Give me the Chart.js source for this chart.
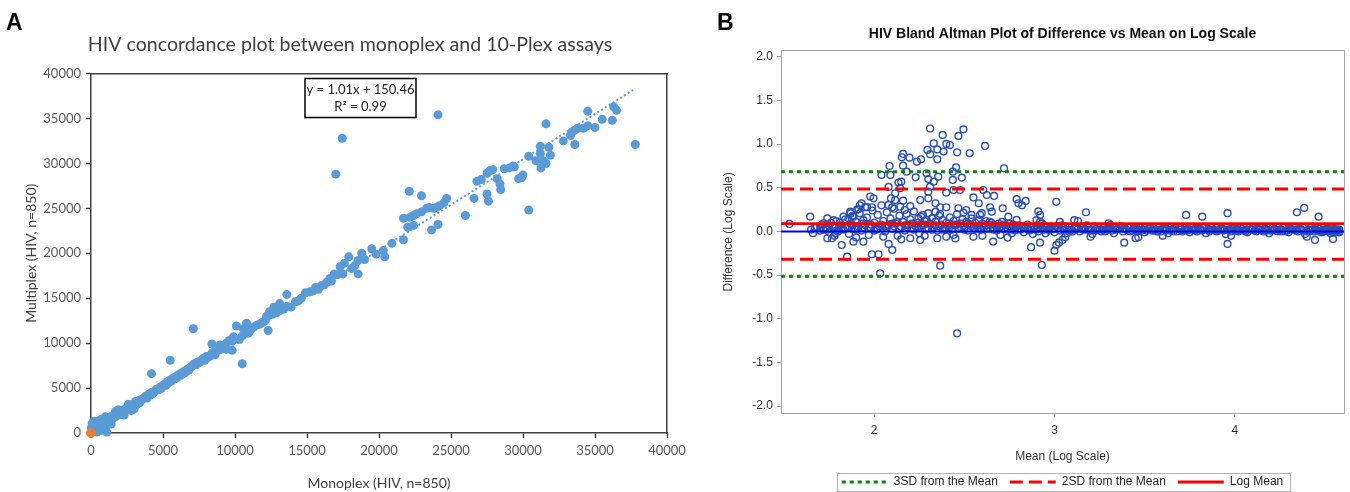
<!DOCTYPE html>
<html>
<head>
<meta charset="utf-8">
<title>HIV concordance and Bland Altman plots</title>
<script src="https://cdn.jsdelivr.net/npm/chart.js@4.4.1/dist/chart.umd.min.js"></script>
<style>
  html, body { margin: 0; padding: 0; background: #fff; }
  body { width: 1350px; height: 492px; position: relative; overflow: hidden; }
  #concordanceChart { position: absolute; left: 0; top: 0; width: 700px; height: 492px; }
  #blandAltmanChart { position: absolute; left: 700px; top: 0; width: 650px; height: 492px; }
</style>
</head>
<body>
<canvas id="concordanceChart" width="700" height="492"></canvas>
<canvas id="blandAltmanChart" width="650" height="492"></canvas>
<script>
// ---- panel A: monoplex vs 10-plex (x = monoplex, y = multiplex)
const concordancePairs = [
  [50,300],[100,800],[150,1200],[200,500],[250,1000],[300,200],[350,700],[400,1300],[450,900],[500,400],
  [550,1100],[600,600],[650,1400],[700,300],[750,900],[800,1200],[850,700],[900,1600],[950,1000],[1000,500],
  [1050,1300],[1100,900],[1150,1700],[1200,1100],[1100,100],[1250,1500],[1300,1200],[1350,1800],[1400,1000],[1450,1500],
  [80,1100],[120,150],[180,900],[30,600],[220,1300],[600,1000],[700,1500],[400,100],[850,1300],[1000,1800],
  [1500,1700],[1600,1900],[1700,1800],[1800,2100],[1900,2000],[2000,2300],[2100,2200],[2200,2500],[2300,2400],[2400,2700],
  [2500,2600],[2600,2900],[2700,2700],[2800,3000],[2900,2900],[3000,3300],[3100,3500],[3200,3200],[3300,3600],[3400,3400],
  [3500,3700],[3600,3800],[3700,3900],[3800,4100],[3900,3900],[4000,4300],[4100,4200],[4200,4500],[4300,4400],[4400,4600],
  [4500,4800],[4600,4900],[4700,4800],[4800,5100],[4900,5000],[5000,5300],[1700,2400],[2300,2000],[2600,3200],[1300,1600],
  [1900,2600],[2800,2500],[3000,2700],[4200,6600],
  [5100,5400],[5200,5300],[5300,5700],[5400,5600],[5500,5900],[5600,5800],[5700,6100],[5800,6000],[5900,6300],[6000,6200],
  [6100,6500],[6200,6400],[6300,6700],[6400,6600],[6500,6900],[6600,6800],[6700,7100],[6800,7000],[6900,7300],[7000,7400],
  [7100,7600],[7200,7700],[7300,7600],[7400,7900],[7500,7800],[7600,8000],[7700,8100],[7800,8300],[7900,8100],[8000,8500],
  [8100,8400],[8300,8600],[8400,8900],[8500,8700],[8600,9000],[8700,9100],[8900,9400],[9000,9300],[9200,9700],[9400,10000],
  [9600,10300],[9800,10200],[9900,10700],[5500,8100],[7100,11600],[8400,9900],[8960,9800],[8600,8700],[9400,9300],[9800,9200],
  [10500,7700],
  [10100,11900],[10300,10400],[10500,10800],[10600,11600],[10800,12200],[11000,11300],[10900,11100],[11100,11500],[11300,11800],[11500,12000],
  [11700,12100],[11900,12300],[12100,12500],[12200,13000],[12400,13500],[12700,14000],[12600,13200],[12900,13400],[13100,13600],[13100,14400],
  [13400,13800],[13600,14100],[13600,15400],[13900,14000],[14200,14600],[14600,15000],[14400,14700],[12300,11400],
  [14900,15600],[15200,15700],[15400,15800],[15600,16200],[15800,16000],[16000,16400],[16200,16500],[16400,16800],[16600,17200],[16700,16900],
  [16900,17700],[17100,17600],[17300,18500],[17500,17700],[17600,18900],[17900,19600],[18100,18300],[18300,18600],[18550,19200],[18550,17700],
  [18800,20000],[19000,19300],[19500,20500],[19800,19900],[20300,20300],[20400,19600],[20900,21100],[17000,28800],[17450,32800],
  [21700,21500],[21700,23900],[22000,22900],[22100,26900],[22150,24000],[22400,23100],[22400,24200],[22600,24400],[22950,24600],[22950,26400],
  [23300,25000],[23500,25100],[23650,22600],[23800,25000],[24000,25100],[24100,23200],[24200,25300],[24500,25600],[24700,26100],[24100,35400],
  [26000,24200],[26600,26100],[26800,28000],[27100,28200],[27500,26600],[27500,28900],[27600,25800],[27700,29200],[27900,29300],[28200,28300],
  [28400,27700],[28450,27100],[28700,29400],[29050,29500],[29300,29700],[29400,29600],[29700,28300],[29900,28400],[30000,28700],
  [30400,24800],[30400,30800],[30900,30300],[31200,31100],[31250,29500],[31200,31900],[31400,30300],[31600,30000],[31600,34400],[31800,31800],
  [31900,30900],[32800,32500],[33300,33100],[33400,33500],[33600,32100],[33600,33700],[33800,33900],[34200,33900],[34500,34200],[34500,35800],
  [35000,34000],[35500,34900],[36200,34800],[36300,36300],[36500,35900],[37800,32100]
];
const zeroSample = [[0, 0]];
const concordanceTicks = [0, 5000, 10000, 15000, 20000, 25000, 30000, 35000, 40000];
const fitSlope = 1.01;
const fitIntercept = 150.46;
const fitRange = [0, 37650];
const fitLabel = ['y = 1.01x + 150.46', 'R\u00B2 = 0.99'];

// ---- panel B: Bland Altman on log scale (x = mean, y = difference)
const blandAltmanPairs = [
  [1.53,0.086],[1.645,0.17],
  [1.65,0.02],[1.66,-0.02],[1.68,0.05],[1.70,0.01],[1.71,0.08],[1.73,0.03],[1.75,-0.01],[1.76,0.10],[1.78,0.04],[1.79,0.12],
  [1.80,0.00],[1.81,0.07],[1.83,0.02],[1.84,0.14],[1.85,0.05],[1.86,-0.03],[1.87,0.09],[1.88,0.18],[1.89,0.03],[1.90,0.11],
  [1.91,0.06],[1.92,0.21],[1.93,0.01],[1.94,0.13],[1.95,0.08],[1.96,0.16],[1.97,-0.04],[1.98,0.04],[1.99,0.24],[2.00,0.10],
  [2.01,0.02],[2.02,0.19],[2.03,0.06],[2.04,0.30],[2.05,0.12],[2.06,0.00],[2.07,0.22],[2.08,0.07],[2.09,0.15],[2.10,0.03],
  [2.11,0.26],[2.12,0.09],[2.13,-0.05],[2.14,0.18],[2.15,0.05],[2.16,0.11],[2.17,0.01],[2.18,0.20],[2.19,0.08],[2.20,0.14],
  [2.21,0.04],[2.22,0.23],[2.23,0.06],[2.24,0.10],[2.25,-0.02],[2.26,0.17],[2.27,0.07],[2.28,0.12],[2.29,0.03],[2.30,0.21],
  [2.31,0.09],[2.32,0.15],[2.33,0.05],[2.34,0.11],[2.35,0.01],[2.36,0.18],[2.37,0.08],[2.38,0.13],[2.39,0.04],[2.40,0.10],
  [2.41,0.06],[2.42,0.16],[2.43,0.02],[2.44,0.12],[2.45,0.07],[2.46,0.20],[2.47,0.03],[2.48,0.09],[2.49,0.14],[2.50,0.05],
  [2.51,0.11],[2.52,0.01],[2.53,0.08],[2.54,0.15],[2.55,0.04],[2.56,0.10],[2.57,0.06],[2.58,0.13],[2.59,0.02],[2.60,0.09],
  [2.61,0.05],[2.62,0.12],[2.63,0.03],[2.64,0.08],[2.65,0.10],[2.66,0.04],[2.67,0.07],[2.68,0.01],[2.69,0.09],[2.70,0.05],
  [2.71,0.11],[2.72,0.03],[2.73,0.07],[2.74,0.02],[2.75,0.09],[2.76,0.05],[2.77,0.08],[2.78,0.01],[2.79,0.06],[2.80,0.03],
  [1.70,0.05],[1.74,0.02],[1.77,0.06],[1.82,0.03],[1.86,0.06],[1.90,0.02],[1.94,0.05],[1.98,0.08],[2.02,0.03],[2.06,0.06],
  [2.10,0.09],[2.14,0.03],[2.18,0.05],[2.22,0.02],[2.26,0.06],[2.30,0.04],[2.34,0.07],[2.38,0.02],[2.42,0.05],[2.46,0.08],
  [2.50,0.02],[2.54,0.06],[2.58,0.04],[2.62,0.07],[2.66,0.02],[2.70,0.06],[2.74,0.04],[2.78,0.07],
  [1.67,0.04],[1.72,0.02],[1.75,0.06],[1.79,0.01],[1.81,0.10],[1.84,0.04],[1.88,0.07],[1.91,0.03],[1.93,0.09],[1.97,0.05],
  [2.00,0.01],[2.04,0.08],[2.07,0.04],[2.11,0.06],[2.13,0.11],[2.17,0.07],[2.21,0.09],[2.24,0.05],[2.28,0.08],[2.32,0.02],
  [2.36,0.06],[2.40,0.03],[2.44,0.08],[2.48,0.05],[2.52,0.09],[2.56,0.03],[2.60,0.06],[2.64,0.11],[2.68,0.05],[2.72,0.08],
  [2.76,0.02],[2.80,0.07],[1.78,-0.05],[1.90,-0.07],[2.05,-0.06],[2.15,-0.09],[2.28,-0.05],[2.45,-0.08],[2.60,-0.05],[2.74,-0.07],
  [2.31,1.18],[2.495,1.17],[2.38,1.106],[2.467,1.095],[2.33,1.01],[2.40,1.003],[2.42,0.99],[2.615,0.98],[2.295,0.934],[2.35,0.94],
  [2.46,0.907],[2.385,0.915],[2.53,0.896],[2.16,0.888],[2.153,0.85],[2.31,0.885],[2.35,0.827],[2.196,0.846],[2.237,0.80],[2.26,0.827],
  [2.085,0.75],[2.16,0.754],[2.18,0.685],[2.454,0.736],[2.436,0.685],[2.72,0.724],[2.04,0.648],[2.09,0.648],[2.23,0.62],[2.29,0.667],
  [2.30,0.60],[2.33,0.57],[2.355,0.628],[2.436,0.59],[2.486,0.617],[2.135,0.56],[2.15,0.57],[2.08,0.51],[2.144,0.495],[2.31,0.513],
  [2.30,0.456],[2.40,0.445],[2.44,0.475],[2.476,0.475],[2.605,0.475],[2.625,0.418],[2.665,0.407],[2.79,0.37],[2.80,0.323],[2.55,0.39],
  [2.58,0.323],[2.255,0.36],[2.30,0.38],[2.116,0.437],[2.093,0.38],[2.116,0.36],[2.16,0.353],[2.08,0.304],[2.10,0.277],[2.144,0.284],
  [2.17,0.246],[2.20,0.29],[1.978,0.40],[1.93,0.323],[1.95,0.277],[1.987,0.277],[1.913,0.254],[1.867,0.227],[1.885,0.17],[1.857,0.15],
  [2.34,0.323],[2.366,0.277],[2.40,0.277],[2.34,0.227],[2.366,0.20],[2.467,0.266],[2.495,0.216],[2.51,0.246],[2.54,0.19],[2.587,0.19],
  [2.597,0.209],[2.643,0.277],[2.652,0.227],[2.713,0.266],[2.744,0.17],[2.79,0.132],[2.245,0.15],[2.27,0.19],[2.29,0.132],
  [1.92,0.30],[1.996,0.38],[1.96,0.28],[1.905,0.25],[1.87,0.21],[1.83,0.17],[1.775,0.13],[1.74,0.15],[1.72,0.094],
  [1.82,-0.155],[1.85,-0.289],[1.987,-0.261],[2.024,-0.261],[2.10,-0.212],[2.08,-0.143],[2.033,-0.479],[2.366,-0.392],[1.885,-0.117],[1.94,-0.117],
  [1.74,-0.078],[1.766,-0.078],[1.784,-0.02],[2.20,-0.078],[2.255,-0.097],[2.35,-0.078],[2.40,-0.06],[2.44,-0.04],[2.55,-0.06],[2.66,-0.117],
  [2.70,-0.04],[2.763,-0.02],[2.46,-1.167],
  [2.81,0.02],[2.82,0.06],[2.83,-0.01],[2.84,0.04],[2.85,0.08],[2.86,0.01],[2.87,0.05],[2.88,-0.03],[2.89,0.03],[2.90,0.07],
  [2.91,0.00],[2.92,0.04],[2.93,0.09],[2.94,0.02],[2.95,-0.02],[2.96,0.05],[2.97,0.01],[2.98,0.06],[2.99,0.03],[3.00,-0.01],
  [3.02,0.04],[3.03,0.01],[3.04,0.07],[3.05,0.02],[3.07,-0.02],[3.08,0.05],[3.09,0.01],[3.11,0.03],[3.12,0.06],[3.14,0.00],
  [3.15,0.04],[3.17,0.02],[3.18,0.07],[3.20,0.01],[3.21,-0.03],[3.23,0.03],[3.24,0.05],[3.26,0.00],[3.27,0.04],[3.29,0.02],
  [3.30,0.06],[3.32,0.01],[3.33,-0.02],[3.35,0.03],[3.36,0.05],[3.38,0.00],[3.40,0.02],[3.41,0.04],[3.43,0.01],[3.44,0.03],
  [3.46,0.00],[3.47,0.05],[3.49,0.02],[3.50,-0.01],[3.52,0.03],[3.54,0.01],[3.55,0.04],[3.57,0.00],[3.58,0.02],[3.60,0.03],
  [3.62,0.01],[3.63,-0.02],[3.65,0.02],[3.67,0.04],[3.68,0.00],[3.70,0.02],[3.72,0.01],[3.74,0.03],[3.75,-0.01],[3.77,0.02],
  [3.79,0.00],[3.80,0.03],[3.82,0.01],[3.84,-0.02],[3.85,0.02],[3.87,0.04],[3.89,0.01],[3.90,0.00],[3.92,0.03],[3.94,0.01],
  [3.95,-0.03],[3.97,0.02],[3.99,0.04],[4.00,0.01],[4.02,0.00],[4.04,0.03],[4.05,0.01],[4.07,-0.01],[4.09,0.02],[4.10,0.04],
  [4.12,0.00],[4.14,0.02],[4.15,0.01],[4.17,0.03],[4.19,-0.02],[4.20,0.01],[4.22,0.03],[4.24,0.00],[4.25,0.02],[4.27,0.04],
  [4.29,0.01],[4.30,-0.01],[4.32,0.02],[4.33,0.05],[4.35,0.00],[4.36,0.03],[4.38,0.01],[4.39,-0.03],[4.41,0.02],[4.42,0.04],
  [4.44,0.00],[4.45,0.02],[4.46,0.01],[4.47,0.03],[4.48,-0.01],[4.49,0.02],[4.50,0.00],[4.51,0.01],[4.52,0.03],[4.53,-0.02],
  [4.54,0.01],[4.55,0.02],[4.56,0.00],[4.57,0.01],[4.58,-0.01],[4.58,0.02],
  [2.85,0.03],[2.90,0.02],[2.95,0.06],[3.00,0.03],[3.06,0.06],[3.10,0.00],[3.13,0.03],[3.16,0.05],[3.19,0.02],[3.22,0.06],
  [3.25,0.02],[3.28,0.00],[3.31,0.04],[3.34,0.02],[3.37,0.06],[3.39,0.03],[3.42,0.00],[3.45,0.02],[3.48,0.04],[3.51,0.01],
  [3.53,0.05],[3.56,0.02],[3.59,0.00],[3.61,0.04],[3.64,0.01],[3.66,0.03],[3.69,0.05],[3.71,0.00],[3.73,0.02],[3.76,0.04],
  [3.78,0.01],[3.81,0.02],[3.83,0.04],[3.86,0.00],[3.88,0.02],[3.91,0.01],[3.93,0.03],[3.96,0.02],[3.98,0.00],[4.01,0.03],
  [4.03,0.01],[4.06,0.02],[4.08,0.04],[4.11,0.01],[4.13,0.03],[4.16,0.00],[4.18,0.02],[4.21,0.04],[4.23,0.01],[4.26,0.02],
  [4.28,0.00],[4.31,0.03],[4.34,0.01],[4.37,0.02],[4.40,0.00],[4.43,0.02],[4.46,0.04],[4.50,0.02],[4.52,0.00],[4.55,0.03],[4.57,0.02],
  [2.83,0.05],[2.87,0.02],[2.91,0.05],[2.94,0.07],[2.97,0.03],[3.01,0.06],[3.05,0.04],[3.08,0.02],[3.12,0.04],[3.16,0.02],
  [3.19,0.05],[3.23,0.01],[3.27,0.02],[3.30,0.03],[3.34,0.05],[3.38,0.03],[3.42,0.05],[3.46,0.03],[3.50,0.04],[3.55,0.01],
  [3.58,0.05],[3.62,0.03],[3.66,0.00],[3.70,0.04],[3.74,0.01],[3.78,0.03],[3.82,0.05],[3.86,0.02],[3.90,0.04],[3.94,0.02],
  [3.98,0.03],[4.02,0.02],[4.06,0.00],[4.10,0.02],[4.14,0.04],[4.18,0.01],[4.22,0.02],[4.26,0.00],[4.30,0.03],[4.34,0.02],
  [4.38,0.04],[4.42,0.01],[4.47,0.00],[4.51,0.03],[4.54,0.04],[4.56,0.02],[4.58,0.00],[4.55,-0.01],[4.52,0.01],[4.49,0.00],
  [2.84,0.35],[2.82,0.30],[2.91,0.23],[2.92,0.19],[2.90,0.13],[2.92,0.11],[3.03,0.11],[3.01,0.34],[3.11,0.13],[3.13,0.12],
  [3.175,0.22],[3.30,0.094],[3.31,0.074],[3.73,0.19],[3.82,0.17],[3.96,0.21],[4.345,0.22],[4.385,0.27],[4.465,0.17],
  [2.87,-0.18],[2.92,-0.128],[2.93,-0.384],[3.00,-0.22],[3.01,-0.155],[3.025,-0.128],[3.045,-0.097],[3.06,-0.066],[3.387,-0.128],[3.45,-0.078],
  [3.465,-0.066],[3.96,-0.143],[4.445,-0.097],[4.545,-0.086],[3.98,-0.05],[4.40,-0.06],[3.60,-0.05],[3.20,-0.06]
];
const meanTicks = [2, 3, 4];
const diffTicks = [-2, -1.5, -1, -0.5, 0, 0.5, 1, 1.5, 2];
const meanRange = [1.483, 4.606];
const diffRange = [-2.08, 2.07];
const logMean = 0.09;
const sd2Limits = [0.487, -0.317];
const sd3Limits = [0.683, -0.513];
const legendNames = ['3SD from the Mean', '2SD from the Mean', 'Log Mean'];

const toPoints = pairs => pairs.map(p => ({ x: p[0], y: p[1] }));
const hLine = levels => {
  const pts = [];
  levels.forEach((v, i) => {
    if (i > 0) pts.push({ x: meanRange[1], y: null });
    pts.push({ x: meanRange[0], y: v }, { x: meanRange[1], y: v });
  });
  return pts;
};

// draws the bold panel letter in the top-left corner
const panelLetter = {
  id: 'panelLetter',
  afterDraw(chart, args, opts) {
    const ctx = chart.ctx;
    ctx.save();
    ctx.font = 'bold 23px "Liberation Sans"';
    ctx.fillStyle = '#000';
    ctx.textBaseline = 'alphabetic';
    ctx.fillText(opts.text, opts.x, opts.y);
    ctx.restore();
  }
};

// regression equation box (Excel style)
const equationBox = {
  id: 'equationBox',
  afterDraw(chart) {
    const ctx = chart.ctx;
    const { left, top } = chart.chartArea;
    const bx = left + 214, by = top + 5, bw = 111, bh = 39;
    ctx.save();
    ctx.fillStyle = '#fff';
    ctx.fillRect(bx, by, bw, bh);
    ctx.strokeStyle = '#000';
    ctx.lineWidth = 1.5;
    ctx.strokeRect(bx, by, bw, bh);
    ctx.fillStyle = '#222';
    ctx.font = '13px Lato';
    ctx.textAlign = 'center';
    ctx.textBaseline = 'middle';
    ctx.fillText(fitLabel[0], bx + bw / 2, by + 11);
    ctx.fillText(fitLabel[1], bx + bw / 2, by + 28);
    ctx.restore();
  }
};

// thin frame around the legend entries
const legendFrame = {
  id: 'legendFrame',
  afterDraw(chart) {
    const boxes = chart.legend && chart.legend.legendHitBoxes;
    if (!boxes || !boxes.length) return;
    const first = boxes[0], last = boxes[boxes.length - 1];
    const ctx = chart.ctx;
    ctx.save();
    ctx.strokeStyle = '#b4b4b4';
    ctx.lineWidth = 1;
    ctx.strokeRect(Math.round(first.left - 5) + 0.5, Math.round(first.top - 3) + 0.5,
      Math.round(last.left + last.width - first.left + 12), Math.round(first.height + 6));
    ctx.restore();
  }
};

const fontA = { family: 'Lato', size: 13 };

const concordanceChart = new Chart(document.getElementById('concordanceChart'), {
  type: 'scatter',
  data: {
    datasets: [
      {
        label: 'Linear fit',
        data: fitRange.map(x => ({ x: x, y: fitSlope * x + fitIntercept })),
        showLine: true,
        borderColor: '#5B9BD5',
        borderWidth: 2,
        borderDash: [2, 2.5],
        pointRadius: 0
      },
      {
        label: 'Zero',
        data: toPoints(zeroSample),
        backgroundColor: '#ED7D31',
        borderColor: '#ED7D31',
        pointRadius: 4.5,
        clip: false
      },
      {
        label: 'HIV',
        data: toPoints(concordancePairs),
        backgroundColor: '#5B9BD5',
        borderColor: '#5B9BD5',
        pointRadius: 4.5,
        pointBorderWidth: 0,
        clip: false
      }
    ]
  },
  options: {
    responsive: false,
    animation: false,
    layout: { padding: 0 },
    plugins: {
      legend: { display: false },
      tooltip: { enabled: false },
      title: {
        display: true,
        text: 'HIV concordance plot between monoplex and 10-Plex assays',
        color: '#404040',
        font: { family: 'Lato', size: 19.6, weight: 'normal' },
        padding: { top: 33, bottom: 17 }
      },
      panelLetter: { text: 'A', x: 6, y: 30 }
    },
    scales: {
      x: {
        type: 'linear',
        position: 'bottom',
        min: 0,
        max: 40000,
        afterBuildTicks: s => { s.ticks = concordanceTicks.map(v => ({ value: v })); },
        ticks: { callback: v => String(v), color: '#595959', font: fontA, padding: 5, maxRotation: 0, autoSkip: false },
        grid: { drawOnChartArea: false, color: '#404040', tickLength: 5, tickWidth: 1.5 },
        border: { color: '#404040', width: 1.5 },
        title: { display: true, text: 'Monoplex (HIV, n=850)', color: '#404040', font: { family: 'Lato', size: 14 }, padding: { top: 12, bottom: 0 } },
        afterFit: s => { s.height = 59; }
      },
      y: {
        type: 'linear',
        position: 'left',
        min: 0,
        max: 40000,
        afterBuildTicks: s => { s.ticks = concordanceTicks.map(v => ({ value: v })); },
        ticks: { callback: v => String(v), color: '#595959', font: fontA, padding: 5, autoSkip: false },
        grid: { drawOnChartArea: false, color: '#404040', tickLength: 5, tickWidth: 1.5 },
        border: { color: '#404040', width: 1.5 },
        title: { display: true, text: 'Multiplex (HIV, n=850)', color: '#404040', font: { family: 'Lato', size: 14 }, padding: { top: 23, bottom: 0 } },
        afterFit: s => { s.width = 91; }
      },
      xTop: {
        type: 'linear',
        position: 'top',
        ticks: { display: false },
        grid: { display: false },
        border: { color: '#404040', width: 1.5 },
        afterFit: s => { s.height = 0; }
      },
      yRight: {
        type: 'linear',
        position: 'right',
        ticks: { display: false },
        grid: { display: false },
        border: { color: '#404040', width: 1.5 },
        afterFit: s => { s.width = 33; }
      }
    }
  },
  plugins: [panelLetter, equationBox]
});

const fontB = { family: 'Liberation Sans', size: 12 };

const blandAltmanChart = new Chart(document.getElementById('blandAltmanChart'), {
  type: 'scatter',
  data: {
    datasets: [
      {
        label: legendNames[0],
        data: hLine(sd3Limits),
        showLine: true,
        borderColor: '#0c7f0c',
        borderWidth: 3,
        borderDash: [4, 4],
        pointRadius: 0
      },
      {
        label: legendNames[1],
        data: hLine(sd2Limits),
        showLine: true,
        borderColor: '#ff0000',
        borderWidth: 3,
        borderDash: [13, 6],
        pointRadius: 0
      },
      {
        label: legendNames[2],
        data: hLine([logMean]),
        showLine: true,
        borderColor: '#ff0000',
        borderWidth: 2.8,
        pointRadius: 0
      },
      {
        label: 'Zero',
        data: hLine([0]),
        showLine: true,
        borderColor: '#0000ff',
        borderWidth: 2,
        pointRadius: 0
      },
      {
        label: 'Difference',
        data: toPoints(blandAltmanPairs),
        backgroundColor: 'rgba(0,0,0,0)',
        borderColor: '#2a4fae',
        pointRadius: 3.4,
        pointBorderWidth: 1.4
      }
    ]
  },
  options: {
    responsive: false,
    animation: false,
    layout: { padding: { top: 0, left: 0, right: 0, bottom: -6 } },
    plugins: {
      tooltip: { enabled: false },
      title: {
        display: true,
        fullSize: false,
        text: 'HIV Bland Altman Plot of Difference vs Mean on Log Scale',
        color: '#111',
        font: { family: 'Liberation Sans', size: 14, weight: 'bold' },
        padding: { top: 26, bottom: 8 }
      },
      legend: {
        position: 'bottom',
        fullSize: false,
        labels: {
          usePointStyle: true,
          pointStyleWidth: 46,
          padding: 12,
          color: '#222',
          font: fontB,
          generateLabels: chart => chart.data.datasets.slice(0, legendNames.length).map((ds, i) => ({
            text: ds.label,
            strokeStyle: ds.borderColor,
            fillStyle: ds.borderColor,
            lineWidth: ds.borderWidth,
            lineDash: ds.borderDash || [],
            lineCap: 'butt',
            pointStyle: 'line',
            fontColor: '#222',
            datasetIndex: i
          }))
        }
      },
      panelLetter: { text: 'B', x: 17, y: 30 }
    },
    scales: {
      x: {
        type: 'linear',
        position: 'bottom',
        min: meanRange[0],
        max: meanRange[1],
        afterBuildTicks: s => { s.ticks = meanTicks.map(v => ({ value: v })); },
        ticks: { callback: v => String(v), color: '#333', font: fontB, padding: 6, maxRotation: 0, autoSkip: false },
        grid: { drawOnChartArea: false, color: '#a6a6a6', tickLength: 4 },
        border: { color: '#a6a6a6', width: 1 },
        title: { display: true, text: 'Mean (Log Scale)', color: '#333', font: fontB, padding: { top: 8, bottom: 0 } },
        afterFit: s => { s.height = 51; }
      },
      y: {
        type: 'linear',
        position: 'left',
        min: diffRange[0],
        max: diffRange[1],
        afterBuildTicks: s => { s.ticks = diffTicks.map(v => ({ value: v })); },
        ticks: { callback: v => v.toFixed(1), color: '#333', font: fontB, padding: 4, autoSkip: false },
        grid: { drawOnChartArea: false, color: '#a6a6a6', tickLength: 4 },
        border: { color: '#a6a6a6', width: 1 },
        title: { display: true, text: 'Difference (Log Scale)', color: '#333', font: fontB, padding: { top: 21, bottom: 0 } },
        afterFit: s => { s.width = 81; }
      },
      xTop: {
        type: 'linear',
        position: 'top',
        ticks: { display: false },
        grid: { display: false },
        border: { color: '#a6a6a6', width: 1 },
        afterFit: s => { s.height = 0; }
      },
      yRight: {
        type: 'linear',
        position: 'right',
        ticks: { display: false },
        grid: { display: false },
        border: { color: '#a6a6a6', width: 1 },
        afterFit: s => { s.width = 6; }
      }
    }
  },
  plugins: [panelLetter, legendFrame]
});
</script>
</body>
</html>
